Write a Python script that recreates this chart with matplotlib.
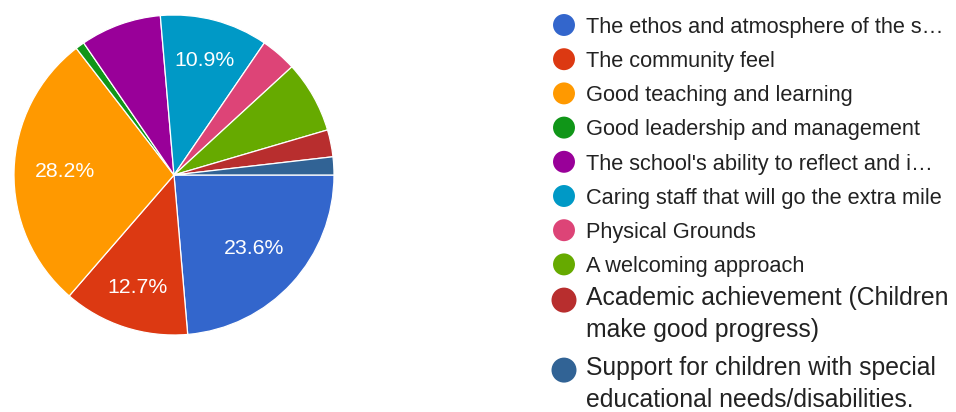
import matplotlib
matplotlib.use("Agg")
import matplotlib.pyplot as plt

plt.rcParams['font.family'] = ['Liberation Sans', 'DejaVu Sans']

labels = [
    "The ethos and atmosphere of the s\u2026",
    "The community feel",
    "Good teaching and learning",
    "Good leadership and management",
    "The school's ability to reflect and i\u2026",
    "Caring staff that will go the extra mile",
    "Physical Grounds",
    "A welcoming approach",
    "Academic achievement (Children\nmake good progress)",
    "Support for children with special\neducational needs/disabilities.",
]
counts = [26, 14, 31, 1, 9, 12, 4, 8, 3, 2]
colors = ["#3366cc", "#dc3912", "#ff9900", "#109618", "#990099",
          "#0099c6", "#dd4477", "#66aa00", "#b82e2e", "#316395"]

W, H = 956, 412
fig = plt.figure(figsize=(W / 100, H / 100), dpi=100)

# pie: centre (174, 175) px, radius 160 px
cx, cy, r = 174, 175, 160
ax = fig.add_axes([(cx - r) / W, (H - cy - r) / H, 2 * r / W, 2 * r / H])
wedges, texts, autotexts = ax.pie(
    counts, colors=colors, startangle=0, counterclock=False,
    autopct=lambda p: f"{p:.1f}%" if p >= 10 else "",
    pctdistance=0.68,
    wedgeprops=dict(edgecolor="white", linewidth=0.9),
    textprops=dict(color="white", fontsize=15.3),
)
total = sum(counts)
for w, t, c in zip(wedges, autotexts, counts):
    # narrower slices get their label pushed a bit further out
    if c / total < 0.2:
        x, y = t.get_position()
        t.set_position((x * 0.74 / 0.68, y * 0.74 / 0.68))
ax.set_xlim(-1, 1)
ax.set_ylim(-1, 1)
ax.set_aspect("equal")
ax.axis("off")

# legend drawn in pixel coordinates
lg = fig.add_axes([0, 0, 1, 1])
lg.set_xlim(0, W)
lg.set_ylim(H, 0)
lg.axis("off")

line_gap = 33
y = 25
for lab, col in zip(labels, colors):
    wrapped = "\n" in lab
    fs = 17.8 if wrapped else 15.7
    ms = 18.0 if wrapped else 15.8
    if wrapped:
        y += 1.5
    lg.scatter([564], [y], s=ms ** 2, color=col, edgecolors="none")
    if wrapped:
        # baseline alignment uses the last line of a multi-line text
        base = y + 4 + line_gap * lab.count("\n")
        lg.text(586, base, lab, fontsize=fs, color="#222222",
                va="baseline", ha="left", linespacing=1.2 * line_gap / 28)
        y += 68.5
    else:
        lg.text(586, y + 0.358 * fs / 0.72, lab, fontsize=fs, color="#222222",
                va="baseline", ha="left")
        y += 34.2

fig.savefig("out.png", dpi=100, facecolor="white")
